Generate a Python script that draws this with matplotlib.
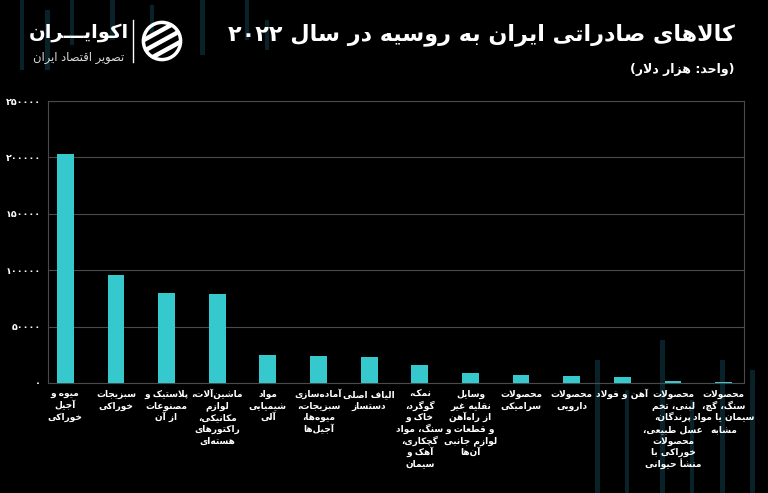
import re
import matplotlib
matplotlib.use('Agg')
import matplotlib.pyplot as plt
from matplotlib.patches import Rectangle, Circle
from matplotlib.lines import Line2D
from matplotlib.transforms import blended_transform_factory, offset_copy
import numpy as np

plt.rcParams['font.family'] = ['DejaVu Sans']

# ---------------- data ----------------
title = "کالاهای صادراتی ایران به روسیه در سال ۲۰۲۲"
subtitle = "(واحد: هزار دلار)"
brand = "اکوایـــران"
brand_sub = "تصویر اقتصاد ایران"

categories = [
    "میوه و\nآجیل\nخوراکی",
    "سبزیجات\nخوراکی",
    "پلاستیک و\nمصنوعات\nاز آن",
    "ماشین\u200cآلات،\nلوازم\nمکانیکی،\nراکتورهای\nهسته\u200cای",
    "مواد\nشیمیایی\nآلی",
    "آماده\u200cسازی\nسبزیجات،\nمیوه\u200cها،\nآجیل\u200cها",
    "الیاف اصلی\nدستساز",
    "نمک،\nگوگرد،\nخاک و\nسنگ، مواد\nگچکاری،\nآهک و\nسیمان",
    "وسایل\nنقلیه غیر\nاز راه\u200cآهن\nو قطعات و\nلوازم جانبی\nآن\u200cها",
    "محصولات\nسرامیکی",
    "محصولات\nدارویی",
    "آهن و فولاد",
    "محصولات\nلبنی، تخم\nپرندگان،\nعسل طبیعی،\nمحصولات\nخوراکی با\nمنشأ حیوانی",
    "محصولات\nسنگ، گچ،\nسیمان یا مواد\nمشابه",
]
values = [203000, 95500, 79500, 78600, 24700, 23800, 23400,
          16000, 9200, 7400, 6500, 5600, 1800, 900]
y_ticks = [0, 50000, 100000, 150000, 200000, 250000]

# ---------------- Persian shaping helpers ----------------
def f4(b):
    return tuple(chr(b + k) for k in range(4))

def f2(b):
    return (chr(b), chr(b + 1), None, None)

FORMS = {
    '\u0621': ('\uFE80', None, None, None),
    '\u0622': f2(0xFE81), '\u0623': f2(0xFE83), '\u0624': f2(0xFE85),
    '\u0625': f2(0xFE87), '\u0626': f4(0xFE89), '\u0627': f2(0xFE8D),
    '\u0628': f4(0xFE8F), '\u0629': f2(0xFE93), '\u062A': f4(0xFE95),
    '\u062B': f4(0xFE99), '\u062C': f4(0xFE9D), '\u062D': f4(0xFEA1),
    '\u062E': f4(0xFEA5), '\u062F': f2(0xFEA9), '\u0630': f2(0xFEAB),
    '\u0631': f2(0xFEAD), '\u0632': f2(0xFEAF), '\u0633': f4(0xFEB1),
    '\u0634': f4(0xFEB5), '\u0635': f4(0xFEB9), '\u0636': f4(0xFEBD),
    '\u0637': f4(0xFEC1), '\u0638': f4(0xFEC5), '\u0639': f4(0xFEC9),
    '\u063A': f4(0xFECD), '\u0641': f4(0xFED1), '\u0642': f4(0xFED5),
    '\u0643': f4(0xFED9), '\u0644': f4(0xFEDD), '\u0645': f4(0xFEE1),
    '\u0646': f4(0xFEE5), '\u0647': f4(0xFEE9), '\u0648': f2(0xFEED),
    '\u0649': f2(0xFEEF), '\u064A': f4(0xFEF1),
    '\u067E': f4(0xFB56), '\u0686': f4(0xFB7A), '\u0698': f2(0xFB8A),
    '\u06A9': f4(0xFB8E), '\u06AF': f4(0xFB92), '\u06CC': f4(0xFBFC),
    '\u0640': ('\u0640',) * 4,
}
LAM_ALEF = {'\u0627': ('\uFEFB', '\uFEFC'), '\u0622': ('\uFEF5', '\uFEF6'),
            '\u0623': ('\uFEF7', '\uFEF8'), '\u0625': ('\uFEF9', '\uFEFA')}


def reshape(s):
    out = []
    n = len(s)
    i = 0
    while i < n:
        c = s[i]
        if c not in FORMS:
            if c != '\u200c':
                out.append(c)
            i += 1
            continue
        prev = s[i - 1] if i > 0 else None
        pc = prev is not None and prev in FORMS and FORMS[prev][2] is not None
        if c == '\u0644' and i + 1 < n and s[i + 1] in LAM_ALEF:
            out.append(LAM_ALEF[s[i + 1]][1 if pc else 0])
            i += 2
            continue
        nxt = s[i + 1] if i + 1 < n else None
        nc = FORMS[c][2] is not None and nxt is not None and nxt in FORMS
        iso, fin, ini, med = FORMS[c]
        if pc and nc:
            g = med
        elif pc:
            g = fin
        elif nc:
            g = ini
        else:
            g = iso
        out.append(g)
        i += 1
    return ''.join(out)


def rtl(s):
    res = []
    for ln in s.split('\n'):
        r = reshape(ln)[::-1]
        r = re.sub(r'[0-9\u06F0-\u06F9]+', lambda m: m.group(0)[::-1], r)
        r = r.translate(str.maketrans('()', ')('))
        res.append(r)
    return '\n'.join(res)


def to_fa(v):
    return str(v).translate(str.maketrans('0123456789', '۰۱۲۳۴۵۶۷۸۹'))

# ---------------- figure ----------------
W, H = 768, 493
fig = plt.figure(figsize=(W / 100, H / 100), dpi=100, facecolor='black')

# faint decorative background stripes
stripe_col = '#09222a'
for (sx, sy, sw, sh) in [(20, 0, 4, 70), (45, 10, 5, 60), (70, 0, 4, 45), (110, 0, 5, 40),
                         (150, 5, 4, 30), (200, 0, 5, 55), (245, 0, 4, 40), (265, 20, 4, 30),
                         (595, 360, 5, 133), (625, 390, 4, 103), (660, 340, 5, 153),
                         (690, 400, 4, 93), (720, 360, 5, 133), (750, 370, 5, 123)]:
    fig.add_artist(Rectangle((sx / W, 1 - (sy + sh) / H), sw / W, sh / H,
                             transform=fig.transFigure, color=stripe_col, zorder=0, lw=0))

ax = fig.add_axes([48 / W, 1 - 383 / H, (744 - 48) / W, (383 - 101) / H])
ax.set_facecolor('none')
x = np.arange(len(values))
ax.bar(x, values, width=0.33, color='#35C9CD', zorder=3)
ax.set_xlim(-0.34, len(values) - 0.6)
ax.set_ylim(0, 250000)
ax.set_yticks(y_ticks)
ax.set_yticklabels([to_fa(v) for v in y_ticks], color='white', fontsize=6.8,
                   fontweight='bold')
ax.tick_params(axis='y', length=0, pad=5)
ax.set_xticks([])
ax.grid(axis='y', color='#4a4a4a', linewidth=0.8, zorder=0)
for sp in ax.spines.values():
    sp.set_color('#4a4a4a')
    sp.set_linewidth(0.8)

# category labels, one text per line (baseline-aligned)
trans = blended_transform_factory(ax.transData, ax.transAxes)
first_px, pitch_px = 14.0, 11.6
for i, lab in enumerate(categories):
    for j, line in enumerate(rtl(lab).split('\n')):
        tr = offset_copy(trans, fig=fig, y=-(first_px + j * pitch_px) * 0.72,
                         units='points')
        ax.text(i, 0, line, transform=tr, ha='center', va='baseline',
                color='white', fontsize=6.5, fontweight='bold')

# title & subtitle
fig.text(735 / W, 1 - 35 / H, rtl(title), ha='right', va='center',
         fontsize=16, fontweight='bold', color='white')
fig.text(735 / W, 1 - 70 / H, rtl(subtitle), ha='right', va='center',
         fontsize=9, fontweight='bold', color='white')

# logo
fig.text(79 / W, 1 - 33 / H, rtl(brand), ha='center', va='center',
         fontsize=14, fontweight='bold', color='white')
fig.text(79 / W, 1 - 57 / H, rtl(brand_sub), ha='center', va='center',
         fontsize=8.3, color='#dddddd')
fig.add_artist(Line2D([133 / W, 133 / W], [1 - 20 / H, 1 - 62 / H],
                      transform=fig.transFigure, color='white', lw=1))
iax = fig.add_axes([140 / W, 1 - 63 / H, 44 / W, 44 / H])
iax.set_xlim(-1.1, 1.1)
iax.set_ylim(-1.1, 1.1)
iax.set_aspect('equal')
iax.axis('off')
clip = Circle((0, 0), 1.0, transform=iax.transData)
ring = Circle((0, 0), 0.93, fill=False, ec='white', lw=2.5)
iax.add_patch(ring)
for off in (-0.55, 0.0, 0.55):
    ln, = iax.plot([-1.2, 1.2], [-1.2 * 0.55 + off, 1.2 * 0.55 + off], color='white',
                   lw=3.2, solid_capstyle='round')
    ln.set_clip_path(clip)

fig.savefig('out.png', dpi=100, facecolor='black')
